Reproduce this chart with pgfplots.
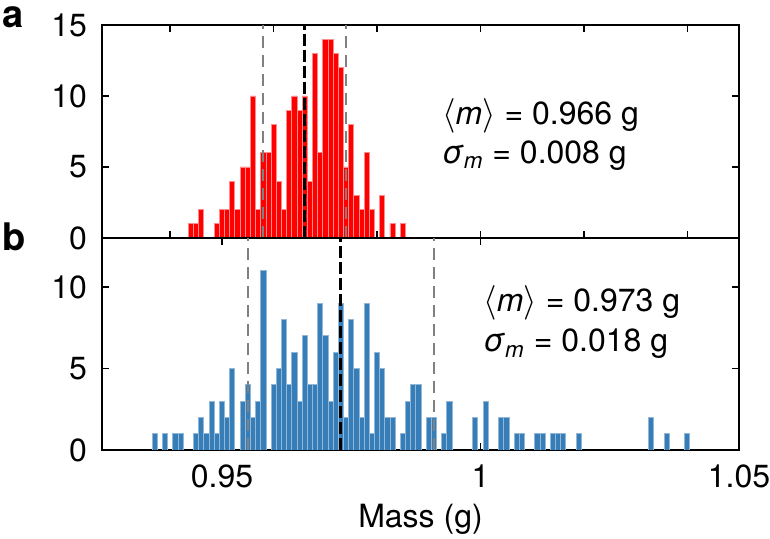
\documentclass[border=0pt]{standalone}
\usepackage{fontspec}
\setmainfont{TeX Gyre Heros}
\usepackage{pgfplots}
\pgfplotsset{compat=1.18}
\definecolor{barblue}{RGB}{55,126,184}
\begin{document}
\fontsize{16}{19}\selectfont
\begin{tikzpicture}
\pgfplotsset{
  hist/.style={
    scale only axis, width=318.5pt, height=106.5pt,
    xmin=0.9268, xmax=1.05, ymin=0,
    axis line style={line width=1pt},
    every tick/.style={line width=0.8pt, black},
    major tick length=3.5pt,
    tick align=inside,
    /pgf/number format/assume math mode=true,
    ticklabel style={font=\fontsize{16}{19}\selectfont},
    yticklabel style={xshift=-2pt},
    xticklabel style={yshift=-2pt},
    clip=true,
  },
  meanline/.style={black, line width=1.6pt, dash pattern=on 6pt off 2pt},
  sdline/.style={gray, line width=0.9pt, dash pattern=on 6pt off 3.5pt},
}
\begin{axis}[hist, name=a, ymax=15, ytick={0,5,10,15},
  xtick={0.94,0.96,0.98,1.00,1.02,1.04}, xticklabels={}]
\addplot[ybar, bar width=0.001, fill=red, draw=red!45!white, line width=0.4pt] coordinates {
(0.944,1) (0.945,1) (0.946,2) (0.949,1) (0.950,2) (0.951,2) (0.952,4) (0.953,2)
(0.954,5) (0.955,5) (0.956,10) (0.957,2) (0.958,6) (0.959,6) (0.960,8) (0.961,4)
(0.962,2) (0.963,9) (0.964,10) (0.965,9) (0.966,10) (0.967,4) (0.968,13) (0.969,6)
(0.970,14) (0.971,14) (0.972,13) (0.973,12) (0.974,5) (0.975,8) (0.976,3) (0.977,2)
(0.978,6) (0.979,2) (0.981,3) (0.983,1) (0.985,1)
};
\addplot[sdline] coordinates {(0.958,0) (0.958,15)};
\addplot[sdline] coordinates {(0.974,0) (0.974,15)};
\addplot[meanline] coordinates {(0.966,0) (0.966,15)};
\node[anchor=base west, inner sep=0] at (axis cs:0.9925,8.0) {$\langle$\textit{m}$\rangle$ = 0.966 g};
\node[anchor=base west, inner sep=0] at (axis cs:0.9925,5.28) {\textit{σ}\textsubscript{\textit{m}} = 0.008 g};
\node[rotate=90, anchor=center, inner sep=0] at ([xshift=-44pt]rel axis cs:0,0.5) {Count};
\end{axis}
\begin{axis}[hist, at={(a.south west)}, anchor=north west, height=106pt,
  ymax=13, ytick={0,5,10},
  xtick={0.95,1,1.05}, xticklabels={0.95,1,1.05},
  xlabel={Mass (g)}, xlabel style={font=\fontsize{16}{19}\selectfont, yshift=3pt}]
\addplot[ybar, bar width=0.001, fill=barblue, draw=barblue!55!white, line width=0.4pt] coordinates {
(0.937,1) (0.939,1) (0.941,1) (0.942,1) (0.945,1) (0.946,2) (0.947,1) (0.948,3)
(0.949,1) (0.950,3) (0.951,2) (0.952,5) (0.954,3) (0.955,4) (0.956,2) (0.957,3)
(0.958,11) (0.960,4) (0.961,5) (0.962,8) (0.963,4) (0.964,6) (0.965,3) (0.966,7)
(0.967,4) (0.968,4) (0.969,9) (0.970,7) (0.971,3) (0.972,6) (0.973,9) (0.974,2)
(0.975,8) (0.976,5) (0.977,2) (0.978,9) (0.979,1) (0.980,6) (0.981,5) (0.982,2)
(0.983,2) (0.985,1) (0.986,3) (0.987,4) (0.988,4) (0.990,2) (0.991,2) (0.993,1)
(0.994,3) (0.999,2) (1.001,3) (1.004,2) (1.005,2) (1.007,1) (1.008,1) (1.011,1)
(1.012,1) (1.014,1) (1.015,1) (1.016,1) (1.019,1) (1.033,2) (1.036,1) (1.040,1)
};
\addplot[sdline] coordinates {(0.955,0) (0.955,13)};
\addplot[sdline] coordinates {(0.991,0) (0.991,13)};
\addplot[meanline] coordinates {(0.973,0) (0.973,13)};
\node[anchor=base west, inner sep=0] at (axis cs:1.0005,8.47) {$\langle$\textit{m}$\rangle$ = 0.973 g};
\node[anchor=base west, inner sep=0] at (axis cs:1.0005,6.01) {\textit{σ}\textsubscript{\textit{m}} = 0.018 g};
\node[rotate=90, anchor=center, inner sep=0] at ([xshift=-44pt]rel axis cs:0,0.6) {Count};
\end{axis}
\node[anchor=north west, inner sep=0, font=\bfseries\fontsize{19}{21}\selectfont] at ([xshift=-50pt, yshift=9.5pt]a.north west) {a};
\node[anchor=north west, inner sep=0, font=\bfseries\fontsize{19}{21}\selectfont] at ([xshift=-50pt, yshift=-98.5pt]a.north west) {b};
\pgfresetboundingbox
\path[use as bounding box] ([xshift=-51pt, yshift=12.5pt]a.north west) rectangle ++(385pt,-269.5pt);
\end{tikzpicture}
\end{document}
